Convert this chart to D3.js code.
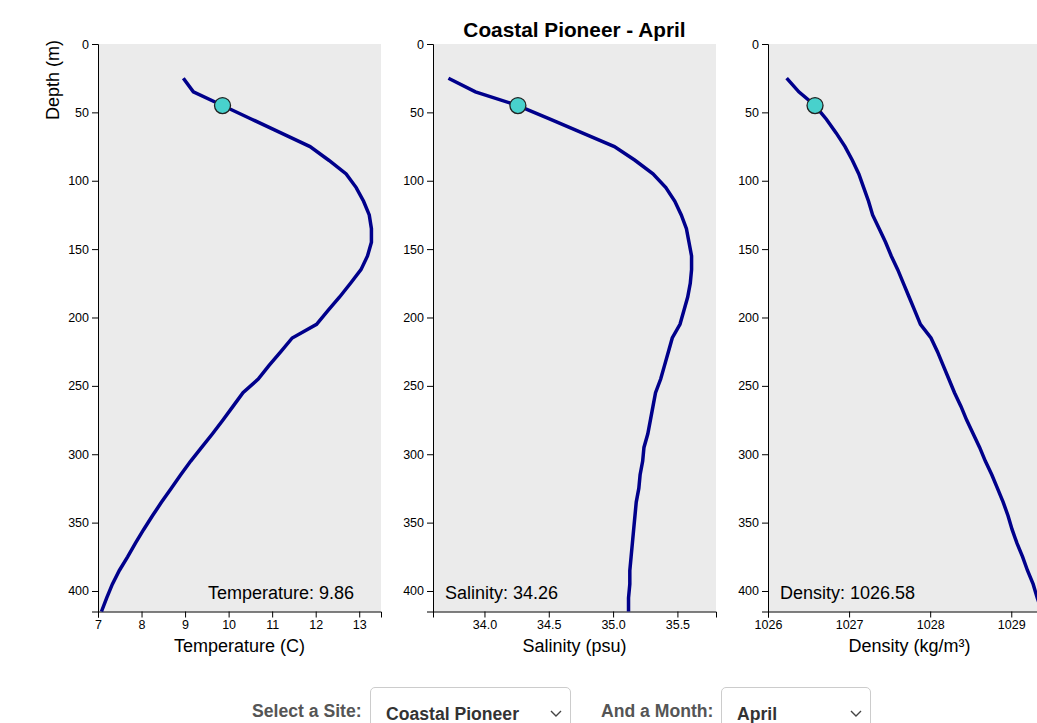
<!DOCTYPE html>
<html>
<head>
<meta charset="utf-8">
<script src="https://cdn.jsdelivr.net/npm/d3@7"></script>
<style>
  body { margin: 0; width: 1037px; height: 723px; overflow: hidden; background: #fff;
         font-family: "Liberation Sans", Arial, sans-serif; }
  svg { position: absolute; left: 0; top: 0; }
  .lbl { position: absolute; top: 700px; font-weight: bold; font-size: 17.6px; color: #555; line-height: 22px; }
  select { position: absolute; top: 687px; height: 50px; border: 1px solid #ccc; border-radius: 5px;
           font: bold 17.6px "Liberation Sans", Arial, sans-serif; color: #333; background-color: #fff;
           padding: 4px 0 0 15px; -webkit-appearance: none; appearance: none;
           background-image: url("data:image/svg+xml;utf8,<svg xmlns='http://www.w3.org/2000/svg' width='12' height='8'><path d='M1 1 L6 6 L11 1' fill='none' stroke='%23444' stroke-width='1.4'/></svg>");
           background-repeat: no-repeat; background-position: right 8px top 22px; }
</style>
</head>
<body>
<svg id="chart" width="1037" height="680"></svg>
<span class="lbl" style="left:252px">Select a Site:</span>
<select id="site" style="left:370px; width:201px"><option>Coastal Pioneer</option></select>
<span class="lbl" style="left:601px">And a Month:</span>
<select id="month" style="left:721px; width:150px"><option>April</option></select>
<script>
// profundidades (m) y perfiles, bins de 10 m
const depths = [25, 35, 45, 55, 65, 75, 85, 95, 105, 115, 125, 135, 145, 155, 165, 175, 185, 195, 205, 215,
                225, 235, 245, 255, 265, 275, 285, 295, 305, 315, 325, 335, 345, 355, 365, 375, 385, 395, 405, 415];
const temperature = [8.96, 9.19, 9.86, 10.53, 11.2, 11.87, 12.3, 12.7, 12.93, 13.1, 13.23, 13.28, 13.28, 13.19,
                     13.04, 12.8, 12.55, 12.28, 12.02, 11.46, 11.2, 10.93, 10.68, 10.33, 10.1, 9.87, 9.63, 9.38,
                     9.13, 8.9, 8.68, 8.46, 8.25, 8.05, 7.86, 7.68, 7.49, 7.33, 7.2, 7.08];
const salinity = [33.72, 33.93, 34.26, 34.51, 34.76, 35.01, 35.17, 35.31, 35.41, 35.48, 35.53, 35.57, 35.59, 35.61,
                  35.61, 35.6, 35.58, 35.55, 35.52, 35.46, 35.43, 35.4, 35.37, 35.33, 35.31, 35.29, 35.27, 35.24,
                  35.23, 35.21, 35.2, 35.18, 35.17, 35.16, 35.15, 35.14, 35.13, 35.13, 35.12, 35.12];
const density = [1026.23, 1026.38, 1026.58, 1026.72, 1026.84, 1026.95, 1027.04, 1027.12, 1027.18, 1027.24, 1027.29,
                 1027.37, 1027.45, 1027.52, 1027.6, 1027.67, 1027.74, 1027.81, 1027.88, 1028.01, 1028.09, 1028.16,
                 1028.23, 1028.3, 1028.38, 1028.45, 1028.53, 1028.61, 1028.68, 1028.76, 1028.83, 1028.9, 1028.96,
                 1029.01, 1029.07, 1029.14, 1029.2, 1029.27, 1029.32, 1029.38];
const selectedDepth = 45;

const depthTicks = [0, 50, 100, 150, 200, 250, 300, 350, 400];
const tempTicks = [7, 8, 9, 10, 11, 12, 13];
const salTicks = [34.0, 34.5, 35.0, 35.5];
const densTicks = [1026, 1027, 1028, 1029];

const site = "Coastal Pioneer";
const month = "April";

const svg = d3.select("#chart");
const marginTop = 44, plotW = 283, plotH = 567.5, step = 335, left0 = 98;

const y = d3.scaleLinear().domain([0, 415]).range([0, plotH]);

const panels = [
  {values: temperature, domain: [7, 13.5], ticks: tempTicks, fmt: d3.format("d"),
   label: "Temperature (C)", name: "Temperature", readFmt: d3.format(".2f"), readAnchor: "end"},
  {values: salinity, domain: [33.6, 35.8], ticks: salTicks, fmt: d3.format(".1f"),
   label: "Salinity (psu)", name: "Salinity", readFmt: d3.format(".2f"), readAnchor: "start"},
  {values: density, domain: [1026, 1029.49], ticks: densTicks, fmt: d3.format("d"),
   label: "Density (kg/m³)", name: "Density", readFmt: d3.format(".2f"), readAnchor: "start"}
];

const iSel = depths.indexOf(selectedDepth);

panels.forEach((p, k) => {
  const g = svg.append("g").attr("transform", `translate(${left0 + k * step},${marginTop})`);
  const x = d3.scaleLinear().domain(p.domain).range([0, plotW]);

  g.append("rect").attr("width", plotW).attr("height", plotH).attr("fill", "#ebebeb");

  g.append("g").attr("transform", `translate(0,${plotH})`)
    .call(d3.axisBottom(x).tickValues(p.ticks).tickFormat(p.fmt))
    .call(a => a.selectAll("text").style("font-size", "12.5px").style("font-family", "Liberation Sans, Arial, sans-serif"));

  g.append("g")
    .call(d3.axisLeft(y).tickValues(depthTicks))
    .call(a => a.selectAll("text").style("font-size", "12.5px").style("font-family", "Liberation Sans, Arial, sans-serif"));

  const pts = depths.map((d, i) => [d, p.values[i]]);
  g.append("path")
    .datum(pts)
    .attr("fill", "none")
    .attr("stroke", "#00008b")
    .attr("stroke-width", 3.5)
    .attr("d", d3.line().x(d => x(d[1])).y(d => y(d[0])));

  g.append("circle")
    .attr("cx", x(p.values[iSel]))
    .attr("cy", y(depths[iSel]))
    .attr("r", 8)
    .attr("fill", "#48d1cc")
    .attr("stroke", "#222")
    .attr("stroke-width", 1.3);

  // lectura del valor
  g.append("text")
    .attr("x", p.readAnchor === "end" ? plotW - 27 : 12)
    .attr("y", plotH - 13)
    .attr("text-anchor", p.readAnchor)
    .style("font-size", "18px")
    .text(`${p.name}: ${p.readFmt(p.values[iSel])}`);

  g.append("text")
    .attr("x", plotW / 2)
    .attr("y", plotH + 40)
    .attr("text-anchor", "middle")
    .style("font-size", "18px")
    .text(p.label);

  if (k === 0) {
    g.append("text")
      .attr("transform", "rotate(-90)")
      .attr("x", 4)
      .attr("y", -39)
      .attr("text-anchor", "end")
      .style("font-size", "18px")
      .text("Depth (m)");
  }
  if (k === 1) {
    g.append("text")
      .attr("x", plotW / 2)
      .attr("y", -7)
      .attr("text-anchor", "middle")
      .style("font-size", "20.8px")
      .style("font-weight", "bold")
      .text(`${site} - ${month}`);
  }
});
</script>
</body>
</html>
